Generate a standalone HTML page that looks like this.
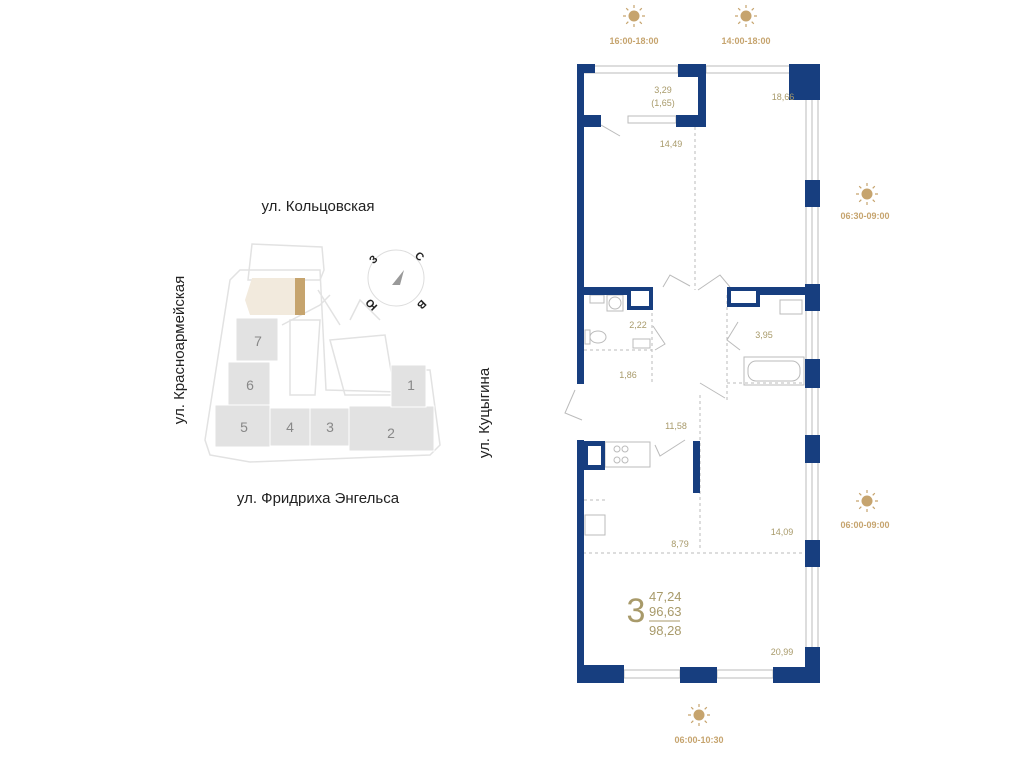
<!DOCTYPE html>
<html><head><meta charset="utf-8"><style>
body{margin:0;background:#fff;width:1024px;height:768px;overflow:hidden;font-family:"Liberation Sans","Noto Sans CJK SC",sans-serif}
svg{display:block}
</style></head><body>
<svg width="1024" height="768" viewBox="0 0 1024 768" xmlns="http://www.w3.org/2000/svg">
<defs>
<g id="sun"><circle r="5.5" fill="#c6a46e"/><g stroke="#c6a46e" stroke-width="1.2"><path d="M0-8V-11M0 8V11M-8 0H-11M8 0H11M5.7-5.7L7.8-7.8M-5.7-5.7L-7.8-7.8M5.7 5.7L7.8 7.8M-5.7 5.7L-7.8 7.8"/></g></g>
</defs>
<g font-family="Liberation Sans, sans-serif">
<text x="318" y="211" font-size="15" fill="#222" text-anchor="middle">ул. Кольцовская</text>
<text x="318" y="503" font-size="15" fill="#222" text-anchor="middle">ул. Фридриха Энгельса</text>
<text transform="translate(184,350) rotate(-90)" font-size="15" fill="#222" text-anchor="middle">ул. Красноармейская</text>
<text transform="translate(489,413) rotate(-90)" font-size="15" fill="#222" text-anchor="middle">ул. Куцыгина</text>
<g fill="none" stroke="#e2e2e2" stroke-width="1.5">
<path d="M252 244 L322 247 L324 270 L320 280 L248 280 Z"/>
<path d="M240 270 L320 270 L326 390 L400 392 L400 370 L430 370 L440 445 L430 455 L250 462 L210 455 L205 440 L230 280 Z"/>
<path d="M290 320 L320 320 L315 395 L290 395 Z"/>
<path d="M330 340 L385 335 L395 395 L345 395 Z"/>
<path d="M282 325 L320 305 L330 295 M318 290 L340 325 M350 320 L360 300 L380 320"/>
</g>
<path d="M252 278 L305 278 L305 315 L250 315 L245 300 Z" fill="#f2eadd"/>
<rect x="295" y="278" width="10" height="37" fill="#c6a46e"/>
<g fill="#e2e2e2" stroke="#fff" stroke-width="1">
<rect x="236" y="318" width="42" height="43"/>
<rect x="228" y="362" width="42" height="43"/>
<rect x="215" y="405" width="55" height="42"/>
<rect x="270" y="408" width="40" height="38"/>
<rect x="310" y="408" width="39" height="38"/>
<rect x="349" y="406" width="85" height="45"/>
<rect x="391" y="365" width="35" height="42"/>
</g>
<g font-size="14" fill="#888" text-anchor="middle">
<text x="258" y="346">7</text><text x="250" y="390">6</text><text x="244" y="432">5</text>
<text x="290" y="432">4</text><text x="330" y="432">3</text><text x="391" y="438">2</text><text x="411" y="390">1</text>
</g>
<circle cx="396" cy="278" r="28" fill="none" stroke="#ddd"/>
<path d="M392 285 L404 270 L400 285 Z" fill="#999"/>
<g font-size="11" font-weight="bold" fill="#222" text-anchor="middle">
<text x="376" y="262" transform="rotate(-45 376 262)">З</text>
<text x="417" y="259" transform="rotate(45 417 259)">С</text>
<text x="374" y="302" transform="rotate(-135 374 302)">Ю</text>
<text x="419" y="302" transform="rotate(135 419 302)">В</text>
</g>
</g>
<g fill="#c6a46e" font-size="9" font-family="Liberation Sans, sans-serif" font-weight="bold">
<use href="#sun" x="634" y="16"/><text x="634" y="44" text-anchor="middle">16:00-18:00</text>
<use href="#sun" x="746" y="16"/><text x="746" y="44" text-anchor="middle">14:00-18:00</text>
<use href="#sun" x="867" y="194"/><text x="865" y="219" text-anchor="middle">06:30-09:00</text>
<use href="#sun" x="867" y="501"/><text x="865" y="528" text-anchor="middle">06:00-09:00</text>
<use href="#sun" x="699" y="715"/><text x="699" y="743" text-anchor="middle">06:00-10:30</text>
</g>
<g fill="none" stroke="#bbb" stroke-width="1">
<rect x="584" y="66" width="94" height="7"/><rect x="706" y="66" width="84" height="7"/>
<path d="M806 100 V665 M812 100 V665 M818 100 V683"/>
<rect x="624" y="670" width="56" height="8"/><rect x="717" y="670" width="56" height="8"/>
<rect x="628" y="116" width="48" height="7"/>
<path stroke-dasharray="3 3" d="M695 127 V290 M584 350 H652 M652 295 V383 M700 395 V550 M583 553 H805 M727 295 V400 M727 383 H805 M584 500 H605"/>
<path d="M601 125 L620 136 M663 287 L670 275 L690 286 M730 287 L720 275 L698 290 M653 326 L665 344 L655 350 M738 322 L727 340 L740 350 M700 383 L725 398 M575 390 L565 413 L582 420 M655 445 L660 456 L685 440"/>
<rect x="590" y="295" width="14" height="8"/><rect x="607" y="295" width="16" height="16"/><circle cx="615" cy="303" r="6"/>
<rect x="585" y="330" width="5" height="14"/><ellipse cx="598" cy="337" rx="8" ry="6"/>
<rect x="633" y="339" width="17" height="9"/>
<rect x="744" y="357" width="60" height="28"/><rect x="748" y="361" width="52" height="20" rx="8"/>
<rect x="780" y="300" width="22" height="14"/>
<rect x="605" y="442" width="45" height="25"/><circle cx="617" cy="449" r="3"/><circle cx="625" cy="449" r="3"/><circle cx="617" cy="460" r="3"/><circle cx="625" cy="460" r="3"/>
<rect x="585" y="515" width="20" height="20"/>
</g>
<g fill="#173e7f">
<rect x="577" y="64" width="7" height="320"/>
<rect x="577" y="64" width="18" height="9"/>
<rect x="577" y="115" width="24" height="12"/>
<rect x="678" y="64" width="28" height="13"/>
<rect x="698" y="64" width="8" height="63"/>
<rect x="676" y="115" width="30" height="12"/>
<rect x="789" y="64" width="31" height="36"/>
<rect x="805" y="180" width="15" height="27"/>
<rect x="805" y="284" width="15" height="27"/>
<rect x="805" y="359" width="15" height="29"/>
<rect x="805" y="435" width="15" height="28"/>
<rect x="805" y="540" width="15" height="27"/>
<rect x="805" y="647" width="15" height="36"/>
<rect x="584" y="287" width="69" height="8"/>
<rect x="627" y="287" width="26" height="23"/><rect x="631" y="291" width="18" height="15" fill="#fff"/>
<rect x="727" y="287" width="78" height="8"/>
<rect x="727" y="287" width="33" height="20"/><rect x="731" y="291" width="25" height="12" fill="#fff"/>
<rect x="577" y="440" width="7" height="243"/>
<rect x="584" y="441" width="21" height="29"/><rect x="588" y="446" width="13" height="19" fill="#fff"/>
<rect x="693" y="441" width="7" height="52"/>
<rect x="577" y="665" width="47" height="18"/>
<rect x="680" y="667" width="37" height="16"/>
<rect x="773" y="667" width="47" height="16"/>
</g>
<g font-size="9" fill="#a89a6a" text-anchor="middle" font-family="Liberation Sans, sans-serif">
<text x="663" y="93">3,29</text><text x="663" y="106">(1,65)</text>
<text x="783" y="100">18,66</text><text x="671" y="147">14,49</text>
<text x="638" y="328">2,22</text><text x="764" y="338">3,95</text>
<text x="628" y="378">1,86</text><text x="676" y="429">11,58</text>
<text x="680" y="547">8,79</text><text x="782" y="535">14,09</text>
<text x="782" y="655">20,99</text>
</g>
<text x="636" y="622" font-size="34" fill="#a89a6a" text-anchor="middle" font-family="Liberation Sans, sans-serif">3</text>
<g font-size="13" fill="#a89a6a" font-family="Liberation Sans, sans-serif">
<text x="649" y="601">47,24</text><text x="649" y="616">96,63</text><text x="649" y="635">98,28</text>
</g>
<line x1="649" y1="621" x2="680" y2="621" stroke="#a89a6a"/>
</svg>
</body></html>
